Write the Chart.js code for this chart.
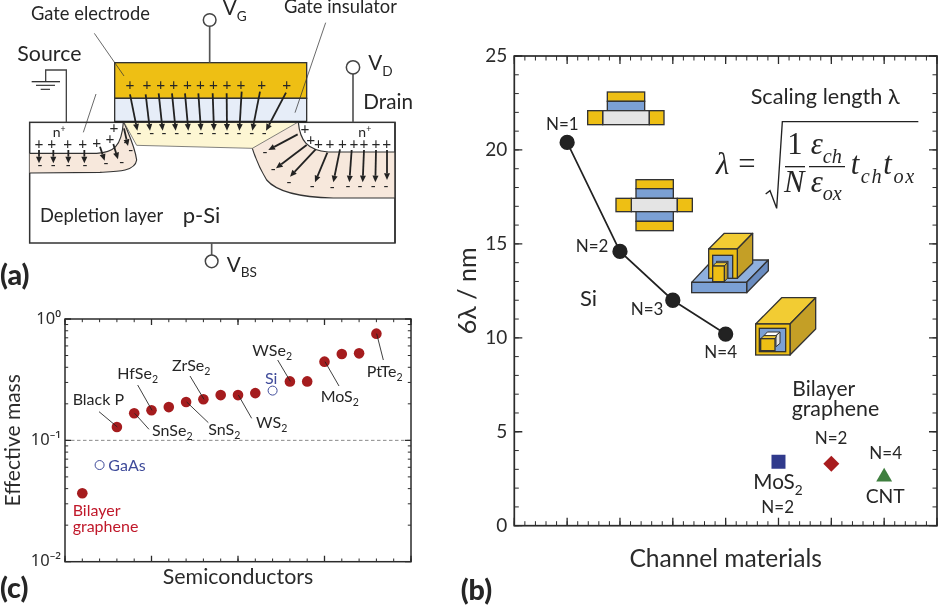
<!DOCTYPE html>
<html>
<head>
<meta charset="utf-8">
<title>Scaling length and effective mass</title>
<script src="https://cdn.jsdelivr.net/npm/chart.js@4/dist/chart.umd.min.js"></script>
<style>
  html, body { margin: 0; padding: 0; background: #fff; }
  #page { position: relative; width: 938px; height: 610px; overflow: hidden; }
  canvas { position: absolute; }
  #chartB { left: 450px; top: 30px; }
  #chartC { left: 0; top: 300px; }
  #overlay { position: absolute; left: 0; top: 0; pointer-events: none; }
  #overlay text { font-family: Lato, "Open Sans", sans-serif; fill: #262626; }
</style>
</head>
<body>
<div id="page">
  <canvas id="chartB" width="488" height="560"></canvas>
  <canvas id="chartC" width="420" height="300"></canvas>
  <svg id="overlay" width="938" height="610" viewBox="0 0 938 610"></svg>
</div>
<script>
// panel (b): 6 lambda against channel material
const siPos = [1, 2, 3, 4];
const siLambda = [20.4, 14.6, 12.0, 10.2];
const mos2Pos = [5];
const mos2Lambda = [3.4];
const bilayerPos = [6];
const bilayerLambda = [3.3];
const cntPos = [7];
const cntLambda = [2.6];
const lambdaTicks = [0, 5, 10, 15, 20, 25];

// panel (c): effective mass of the semiconductors
const semiPos = [1, 3, 4, 5, 6, 7, 8, 9, 10, 11, 13, 14, 15, 16, 17, 18];
const semiMass = [0.0366, 0.129, 0.167, 0.177, 0.188, 0.207, 0.218, 0.236, 0.236, 0.245, 0.306, 0.306, 0.445, 0.515, 0.521, 0.757];
const refPos = [2, 12];
const refMass = [0.0626, 0.257];
const limitPos = [0, 20];
const limitMass = [0.1, 0.1];
const massTicks = [0.01, 0.1, 1];
const massTickLabels = ["10\u207B\u00B2", "10\u207B\u00B9", "10\u2070"];

const INK = "#2b2b2b";
const pairs = (xs, ys) => xs.map((x, i) => ({ x, y: ys[i] }));
const range = (from, to, step) => {
  const out = [];
  for (let v = from; v <= to + 1e-9; v += step) out.push(v);
  return out;
};

// boxed frame with inward ticks on all four sides
const frameTicks = {
  id: "frameTicks",
  afterDatasetsDraw(chart, args, o) {
    const { ctx, chartArea: a, scales } = chart;
    ctx.save();
    ctx.strokeStyle = INK;
    const mark = (list, len, width) => {
      ctx.lineWidth = width;
      ctx.beginPath();
      list.x.forEach(v => {
        const p = scales.x.getPixelForValue(v);
        ctx.moveTo(p, a.bottom); ctx.lineTo(p, a.bottom - len);
        ctx.moveTo(p, a.top); ctx.lineTo(p, a.top + len);
      });
      list.y.forEach(v => {
        const p = scales.y.getPixelForValue(v);
        ctx.moveTo(a.left, p); ctx.lineTo(a.left + len, p);
        ctx.moveTo(a.right, p); ctx.lineTo(a.right - len, p);
      });
      ctx.stroke();
    };
    mark(o.minor, o.minorLen, 1);
    mark(o.major, o.majorLen, 1.3);
    ctx.lineWidth = o.frame;
    ctx.strokeRect(a.left, a.top, a.right - a.left, a.bottom - a.top);
    ctx.restore();
  }
};

const titleFont = size => ({ family: "Lato", size });

new Chart(document.getElementById("chartB"), {
  type: "scatter",
  plugins: [frameTicks],
  data: {
    datasets: [
      { data: pairs(siPos, siLambda), showLine: true, borderColor: "#222", borderWidth: 1.7, backgroundColor: "#222", pointRadius: 6.8 },
      { data: pairs(mos2Pos, mos2Lambda), pointStyle: "rect", pointRadius: 9.9, backgroundColor: "#303a8c", borderWidth: 0 },
      { data: pairs(bilayerPos, bilayerLambda), pointStyle: "rectRot", pointRadius: 8, backgroundColor: "#a81c1e", borderWidth: 0 },
      { data: pairs(cntPos, cntLambda), pointStyle: "triangle", pointRadius: 9.2, backgroundColor: "#3f7f3f", borderWidth: 0 }
    ]
  },
  options: {
    responsive: false,
    animation: false,
    layout: { autoPadding: false, padding: { top: 26, right: 1, left: 0, bottom: 0 } },
    plugins: {
      legend: { display: false },
      tooltip: { enabled: false },
      frameTicks: {
        frame: 1.7, majorLen: 8, minorLen: 4.5,
        major: { x: range(0, 8, 1), y: lambdaTicks },
        minor: { x: range(0, 8, 0.2), y: range(0, 25, 1) }
      }
    },
    scales: {
      x: {
        min: 0, max: 8,
        afterFit: s => { s.height = 64.3; },
        grid: { display: false, drawTicks: false },
        border: { display: false },
        ticks: { display: false },
        title: { display: true, text: "Channel materials", color: INK, font: titleFont(24.6), padding: { top: 0, bottom: 16 } }
      },
      y: {
        min: 0, max: 25,
        afterFit: s => { s.width = 64.3; },
        grid: { display: false, drawTicks: false },
        border: { display: false },
        afterBuildTicks: s => { s.ticks = lambdaTicks.map(value => ({ value })); },
        ticks: { color: INK, font: titleFont(19), padding: 7 },
        title: { display: true, text: "6\u03BB / nm", color: INK, font: titleFont(25), padding: { top: 3, bottom: 0 } }
      }
    }
  }
});

new Chart(document.getElementById("chartC"), {
  type: "scatter",
  plugins: [frameTicks],
  data: {
    datasets: [
      { data: pairs(limitPos, limitMass), showLine: true, borderColor: "#8a8a8a", borderWidth: 1, borderDash: [3.5, 2.5], pointRadius: 0 },
      { data: pairs(semiPos, semiMass), backgroundColor: "#a51c1e", borderWidth: 0, pointRadius: 5.3 },
      { data: pairs(refPos, refMass), backgroundColor: "#fff", borderColor: "#3f4b9a", borderWidth: 1, pointRadius: 4.5 }
    ]
  },
  options: {
    responsive: false,
    animation: false,
    layout: { autoPadding: false, padding: { top: 19, right: 9, left: 0, bottom: 0 } },
    plugins: {
      legend: { display: false },
      tooltip: { enabled: false },
      frameTicks: {
        frame: 1.5, majorLen: 6, minorLen: 3.2,
        major: { x: range(0, 20, 5), y: massTicks },
        minor: {
          x: range(0, 20, 1),
          y: [0.01, 0.1].flatMap(d => range(2, 9, 1).map(m => m * d))
        }
      }
    },
    scales: {
      x: {
        min: 0, max: 20,
        afterFit: s => { s.height = 38.3; },
        grid: { display: false, drawTicks: false },
        border: { display: false },
        ticks: { display: false },
        title: { display: true, text: "Semiconductors", color: INK, font: titleFont(21.4), padding: { top: 0, bottom: 10 } }
      },
      y: {
        type: "logarithmic",
        min: 0.01, max: 1,
        afterFit: s => { s.width = 65; },
        grid: { display: false, drawTicks: false },
        border: { display: false },
        afterBuildTicks: s => { s.ticks = massTicks.map(value => ({ value })); },
        ticks: {
          color: INK, font: { family: "Noto Sans", size: 16.5 }, padding: 4,
          autoSkip: false, maxRotation: 0,
          callback: v => massTickLabels[massTicks.indexOf(v)]
        },
        title: { display: true, text: "Effective mass", color: INK, font: titleFont(21), padding: { top: 1, bottom: 0 } }
      }
    }
  }
});

// everything below is the drawn artwork and the free labels, in 3x coordinates
const sub = (s, size) => `<tspan dy="${size * 0.28}" font-size="${size * 0.66}">${s}</tspan>`;
const sup = (s, size) => `<tspan dy="${-size * 0.35}" font-size="${size * 0.62}">${s}</tspan>`;
const txt = (x, y, body, size, extra = "") => `<text x="${x}" y="${y}" font-size="${size}" ${extra}>${body}</text>`;
const line = (x1, y1, x2, y2, w = 2.2, c = "#333") => `<line x1="${x1}" y1="${y1}" x2="${x2}" y2="${y2}" stroke="${c}" stroke-width="${w}"/>`;
const box = (x1, y1, x2, y2, fill, w = 4) => `<rect x="${x1}" y="${y1}" width="${x2 - x1}" height="${y2 - y1}" fill="${fill}" stroke="#333" stroke-width="${w}"/>`;
const poly = (pts, fill, w = 4) => `<polygon points="${pts}" fill="${fill}" stroke="#333" stroke-width="${w}" stroke-linejoin="round"/>`;
const mid = 'text-anchor="middle"';
const BOLD = 'font-weight="900"';
const GOLD = "#eebf14", BLUE = "#7ba0d4", SILVER = "#e4e4e4";

const arrow = ([x1, y1, x2, y2]) => {
  const a = Math.atan2(y2 - y1, x2 - x1), h = 20, s = 9;
  const bx = x2 - h * Math.cos(a), by = y2 - h * Math.sin(a);
  const nx = -Math.sin(a) * s, ny = Math.cos(a) * s;
  return line(x1, y1, bx, by, 5.4, "#222") +
    `<polygon points="${x2},${y2} ${bx + nx},${by + ny} ${bx - nx},${by - ny}" fill="#222"/>`;
};
const plus = ([x, y]) => txt(x, y + 16, "+", 46, mid);
const minus = ([x, y]) => txt(x, y + 12, "-", 44, mid);

const fieldArrows = [
  [390, 283, 412, 392], [437, 283, 450, 392], [476, 280, 488, 392], [516, 280, 527, 392],
  [555, 280, 565, 392], [595, 280, 603, 392], [638, 280, 642, 392], [680, 280, 681, 392],
  [725, 275, 718, 392], [780, 275, 757, 392], [858, 278, 798, 392],
  [117, 450, 117, 490], [160, 450, 160, 490], [205, 450, 205, 490], [253, 450, 253, 490],
  [300, 440, 314, 482], [340, 432, 354, 478], [372, 385, 384, 438],
  [893, 403, 805, 450], [920, 435, 828, 505], [947, 448, 870, 530], [982, 458, 945, 547],
  [1020, 448, 1000, 547], [1055, 450, 1048, 547], [1092, 450, 1088, 547], [1128, 450, 1126, 547], [1161, 450, 1161, 540]
];
const plusSigns = [
  [390, 253], [441, 253], [482, 253], [521, 253], [562, 253], [601, 253], [640, 253], [681, 253], [723, 253], [785, 253], [860, 253],
  [117, 430], [155, 430], [203, 430], [248, 430], [290, 428], [330, 415], [342, 382],
  [915, 385], [932, 418], [955, 430], [990, 430], [1027, 430], [1062, 430], [1092, 430], [1128, 430], [1160, 430]
];
const minusSigns = [
  [417, 402], [455, 402], [492, 402], [530, 402], [567, 402], [604, 402], [642, 402], [680, 402], [717, 402], [755, 402], [793, 402],
  [120, 497], [160, 497], [205, 497], [255, 497], [318, 493], [365, 488], [378, 430], [392, 452],
  [795, 460], [820, 510], [867, 550], [937, 560], [997, 565], [1044, 562], [1080, 562], [1120, 562], [1158, 562]
];

const panelA = `
  <rect x="89" y="367" width="1096" height="362" fill="#fff" stroke="#333" stroke-width="4.5"/>
  <path d="M89,460 L290,460 C340,458 365,440 370,367 L372,367 C385,400 405,440 410,480 C405,515 350,515 300,517 L89,519 Z" fill="#f7e8dc"/>
  <path d="M89,460 L290,460 C340,458 365,440 370,367 M372,367 C385,400 405,440 410,480 C405,515 350,515 300,517 L89,519" fill="none" stroke="#333" stroke-width="3.5"/>
  <path d="M895,367 C900,420 920,450 985,456 L1185,456 L1185,594 L1000,594 C900,592 830,575 800,540 C775,500 765,470 757,445 Z" fill="#f7e8dc"/>
  <path d="M895,367 C900,420 920,450 985,456 L1185,456 M1185,594 L1000,594 C900,592 830,575 800,540 C775,500 765,470 757,445" fill="none" stroke="#333" stroke-width="3.5"/>
  <polygon points="372,367 893,367 757,445 410,436" fill="#fdf6d3" stroke="#444" stroke-width="2"/>
  ${line(1185, 367, 1185, 729, 4.5)}
  ${box(344, 188, 920, 295, GOLD)}
  ${box(344, 295, 920, 365, "#e6edf8")}
  ${line(344, 365, 920, 365, 6, "#222")}
  ${line(629, 79, 629, 188, 5, "#555")}
  <circle cx="629" cy="60" r="19" fill="#fff" stroke="#444" stroke-width="4.5"/>
  ${line(1059, 222, 1059, 367, 5, "#555")}
  <circle cx="1059" cy="202" r="20" fill="#fff" stroke="#444" stroke-width="4.5"/>
  ${line(635, 729, 635, 765, 5, "#555")}
  <circle cx="635" cy="784" r="19" fill="#fff" stroke="#444" stroke-width="4.5"/>
  <polyline points="199,367 199,210 137,210 137,245" fill="none" stroke="#444" stroke-width="4"/>
  ${line(95, 245, 180, 245, 4)}${line(108, 256, 165, 256, 3.5)}${line(122, 268, 150, 268, 3.5)}
  ${line(283, 100, 372, 228)}${line(977, 68, 885, 338)}${line(288, 282, 250, 397)}
  ${fieldArrows.map(arrow).join("")}
  ${plusSigns.map(plus).join("")}
  ${minusSigns.map(minus).join("")}
  ${txt(93, 60, "Gate electrode", 55)}
  ${txt(852, 40, "Gate insulator", 55)}
  ${txt(668, 45, "V" + sub("G", 62), 62)}
  ${txt(1105, 210, "V" + sub("D", 62), 62)}
  ${txt(680, 815, "V" + sub("BS", 62), 62)}
  ${txt(52, 184, "Source", 64)}
  ${txt(1090, 328, "Drain", 62)}
  ${txt(120, 665, "Depletion layer", 55)}
  ${txt(548, 670, "p-Si", 66)}
  ${txt(158, 412, "n" + sup("+", 42), 42)}
  ${txt(1075, 412, "n" + sup("+", 42), 42)}
  ${txt(0, 855, "(a)", 86, BOLD)}`;

const panelBIcons = `
  ${box(442, 186, 554, 214, GOLD)}${box(442, 214, 554, 242, BLUE)}
  ${box(428, 242, 568, 284, SILVER)}${box(383, 242, 428, 284, GOLD)}${box(568, 242, 612, 284, GOLD)}
  ${box(528, 449, 640, 476, GOLD)}${box(528, 476, 640, 505, BLUE)}
  ${box(514, 505, 652, 545, SILVER)}${box(468, 505, 514, 545, GOLD)}${box(652, 505, 697, 545, GOLD)}
  ${box(528, 545, 640, 574, BLUE)}${box(528, 574, 640, 602, GOLD)}
  ${poly("695,757 758,690 925,690 860,757", "#8fb0de")}
  ${poly("860,757 925,690 925,722 860,788", "#6a8cc0")}
  ${box(695, 757, 860, 788, BLUE)}
  ${poly("746,657 793,610 878,610 832,657", "#f2cc33")}
  ${poly("832,657 878,610 878,700 832,745", "#c49f26")}
  ${box(746, 657, 832, 745, GOLD)}
  ${box(758, 676, 818, 745, BLUE)}
  ${box(770, 694, 804, 745, SILVER, 3)}
  ${poly("758,708 768,698 802,698 793,708", "#f2cc33", 3)}
  ${poly("793,708 802,698 802,745 793,755", "#c49f26", 3)}
  ${box(758, 708, 793, 755, GOLD)}
  ${poly("887,882 965,803 1067,803 990,882", "#f2cc33")}
  ${poly("990,882 1067,803 1067,897 990,975", "#c49f26")}
  ${box(887, 882, 990, 975, GOLD)}
  ${box(898, 895, 977, 965, BLUE)}
  ${poly("912,917 922,906 960,906 948,917", "#fff", 3)}
  ${poly("948,917 960,906 960,940 948,950", SILVER, 3)}
  ${poly("902,926 912,917 950,917 945,926", "#f2cc33", 3)}
  ${box(902, 926, 945, 962, GOLD)}`;

const MATH = 'style="font-family:\'Liberation Serif\';font-style:italic"';
const MATH_UP = 'style="font-family:\'Liberation Serif\'"';
const panelBEquation = `
  ${txt(872, 222, "Scaling length \u03BB", 65)}
  ${txt(768, 432, "\u03BB", 92, MATH)}
  ${txt(835, 432, "=", 92, MATH_UP)}
  <polyline points="917,492 930,482 950,535 967,275 1375,275" fill="none" stroke="#222" stroke-width="4"/>
  ${line(975, 410, 1035, 410, 4, "#222")}${line(1047, 410, 1155, 410, 4, "#222")}
  ${txt(1005, 372, "1", 92, mid + " " + MATH_UP)}
  ${txt(1003, 485, "N", 92, mid + " " + MATH)}
  ${txt(1052, 372, "\u03B5" + sub("ch", 92), 92, MATH)}
  ${txt(1052, 485, "\u03B5" + sub("ox", 92), 92, MATH)}
  ${txt(1172, 432, "t" + sub("ch", 92) + '<tspan dy="-25.76">t</tspan>' + sub("ox", 92), 92, 'letter-spacing="5" ' + MATH)}`;

const panelBLabels = `
  ${txt(258, 300, "N=1", 51)}
  ${txt(347, 665, "N=2", 51)}
  ${txt(512, 855, "N=3", 51)}
  ${txt(360, 827, "Si", 66)}`;

const panelBLower = `
  ${txt(733, 175, "N=4", 51)}
  ${txt(997, 288, "Bilayer", 63)}
  ${txt(995, 348, "graphene", 64)}
  ${txt(1064, 433, "N=2", 51)}
  ${txt(1228, 476, "N=4", 51)}
  ${txt(880, 568, "MoS" + sub("2", 62), 62)}
  ${txt(904, 638, "N=2", 51)}
  ${txt(1217, 610, "CNT", 58)}
  ${txt(2, 900, "(b)", 86, BOLD)}`;

const leaders = [
  [297, 335, 352, 381], [413, 255, 456, 331], [570, 228, 612, 298], [833, 180, 871, 244], [404, 340, 447, 388],
  [560, 306, 625, 368], [715, 285, 755, 355], [975, 185, 1017, 258], [1130, 101, 1150, 180]
];
const SZ = 48;
const panelC = `
  ${leaders.map(l => line(...l, 2.6, "#222")).join("")}
  ${txt(218, 315, "Black P", SZ)}
  ${txt(352, 236, "HfSe" + sub("2", SZ), SZ)}
  ${txt(516, 212, "ZrSe" + sub("2", SZ), SZ)}
  ${txt(757, 168, "WSe" + sub("2", SZ), SZ)}
  ${txt(456, 408, "SnSe" + sub("2", SZ), SZ)}
  ${txt(625, 405, "SnS" + sub("2", SZ), SZ)}
  ${txt(768, 384, "WS" + sub("2", SZ), SZ)}
  ${txt(962, 306, "MoS" + sub("2", SZ), SZ)}
  ${txt(1100, 230, "PtTe" + sub("2", SZ), SZ)}
  ${txt(795, 252, "Si", SZ, 'style="fill:#3f4b9a"')}
  ${txt(325, 513, "GaAs", SZ, 'style="fill:#3f4b9a"')}
  ${txt(218, 648, "Bilayer", SZ, 'style="fill:#c0182a"')}
  ${txt(218, 695, "graphene", SZ, 'style="fill:#c0182a"')}
  ${txt(0, 895, "(c)", 86, BOLD)}`;

const third = (dx, dy, body) => `<g transform="translate(${dx},${dy}) scale(${1 / 3})">${body}</g>`;
document.getElementById("overlay").innerHTML =
  third(0, 0, panelA) +
  third(460, 30, panelBIcons + panelBEquation + panelBLabels) +
  third(460, 300, panelBLower) +
  third(0, 300, panelC);
</script>
</body>
</html>
